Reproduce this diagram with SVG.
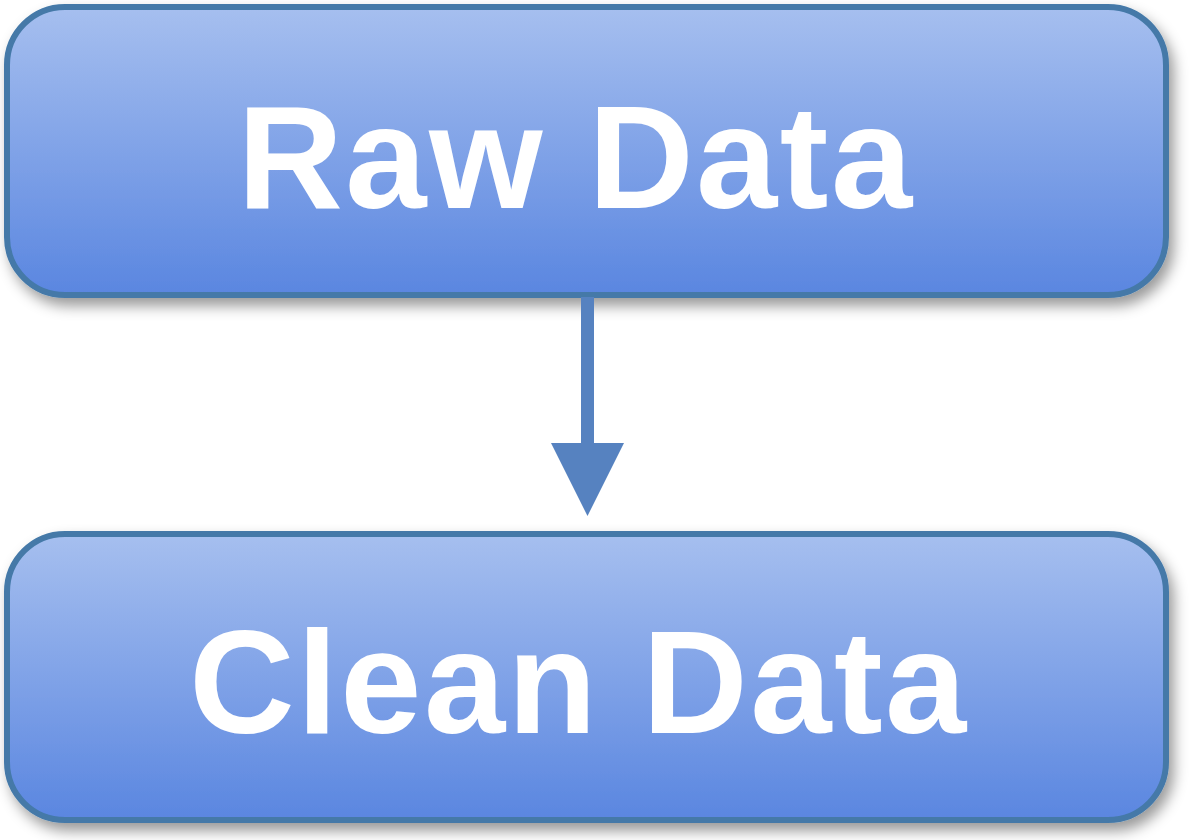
<svg xmlns="http://www.w3.org/2000/svg" width="1189" height="840" viewBox="0 0 1189 840">
<defs>
<linearGradient id="g" x1="0" y1="0" x2="0" y2="1">
<stop offset="0" stop-color="#A6BFEF"/>
<stop offset="1" stop-color="#5A86E0"/>
</linearGradient>
<filter id="sh" x="-5%" y="-10%" width="115%" height="135%">
<feDropShadow dx="5" dy="8" stdDeviation="7" flood-color="#000" flood-opacity="0.4"/>
</filter>
<style>
.box{fill:url(#g);stroke:#4479A8;stroke-width:6;filter:url(#sh)}
.lbl{font-family:"Liberation Sans",Arial,sans-serif;font-weight:bold;font-size:146px;fill:#fff;text-anchor:middle;letter-spacing:2.5px}
.conn{stroke:#5682C0;stroke-width:13;fill:none}
</style>
</defs>
<g id="raw-data">
<rect class="box" x="7" y="7" width="1159" height="288" rx="58" ry="58"/>
<text class="lbl" x="576" y="208">Raw Data</text>
</g>
<g id="clean-data">
<rect class="box" x="7" y="534" width="1159" height="286" rx="58" ry="58"/>
<text class="lbl" x="579" y="733">Clean Data</text>
</g>
<g id="connectors">
<line class="conn" x1="587.5" y1="297" x2="587.5" y2="446"/>
<polygon points="551,443 624,443 587.5,516" fill="#5682C0"/>
</g>
</svg>
